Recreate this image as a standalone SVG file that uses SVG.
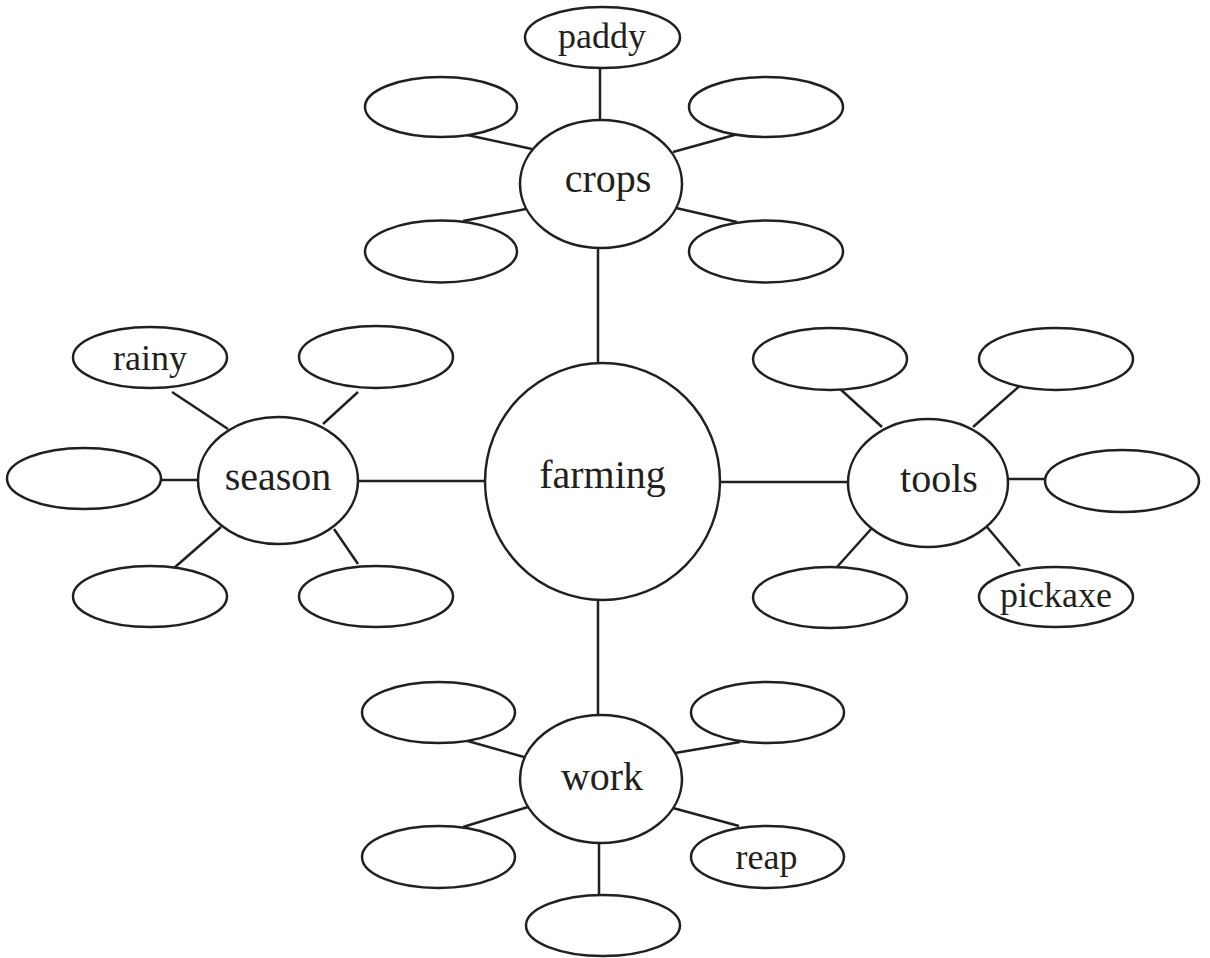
<svg xmlns="http://www.w3.org/2000/svg" width="1210" height="958" viewBox="0 0 1210 958">
<style>
.n{fill:#fff;stroke:#231f20;stroke-width:2.5}
.c line{stroke:#231f20;stroke-width:2.5}
text{font-family:"Liberation Serif","Times New Roman",serif;fill:#231f20;text-anchor:middle}
.big{font-size:40px}
.sm{font-size:36px}
</style>
<rect width="1210" height="958" fill="#fff"/>
<g class="c" id="connectors">
<line x1="600" y1="68" x2="600" y2="120"/>
<line x1="458" y1="133" x2="532" y2="149"/>
<line x1="673" y1="152" x2="738" y2="134"/>
<line x1="463" y1="221" x2="526" y2="209"/>
<line x1="676" y1="208" x2="737" y2="222"/>
<line x1="598" y1="248" x2="598" y2="363"/>
<line x1="172" y1="392" x2="228" y2="429"/>
<line x1="358" y1="392" x2="323" y2="424"/>
<line x1="161" y1="480" x2="198" y2="480"/>
<line x1="221" y1="527" x2="174" y2="568"/>
<line x1="334" y1="529" x2="358" y2="564"/>
<line x1="358" y1="481" x2="485" y2="481"/>
<line x1="720" y1="482" x2="848" y2="482"/>
<line x1="839" y1="388" x2="882" y2="427"/>
<line x1="1023" y1="383" x2="973" y2="427"/>
<line x1="1008" y1="479" x2="1045" y2="479"/>
<line x1="872" y1="528" x2="837" y2="567"/>
<line x1="987" y1="527" x2="1020" y2="566"/>
<line x1="598" y1="600" x2="598" y2="715"/>
<line x1="457" y1="738" x2="524" y2="757"/>
<line x1="675" y1="753" x2="740" y2="742"/>
<line x1="463" y1="827" x2="528" y2="807"/>
<line x1="673" y1="808" x2="739" y2="826"/>
<line x1="599" y1="843" x2="599" y2="894"/>
</g>
<g id="farming"><ellipse class="n" cx="602.5" cy="481.5" rx="117.5" ry="118.5"/><text class="big" x="602.5" y="488">farming</text></g>
<g id="crops"><ellipse class="n" cx="601" cy="184" rx="81" ry="64"/><text class="big" x="608" y="192">crops</text></g>
<g id="paddy"><ellipse class="n" cx="602.5" cy="37.5" rx="77.5" ry="30.5"/><text class="sm" x="602" y="48">paddy</text></g>
<g id="crops-tl"><ellipse class="n" cx="441" cy="107" rx="76" ry="30"/></g>
<g id="crops-tr"><ellipse class="n" cx="766" cy="107" rx="77" ry="30"/></g>
<g id="crops-bl"><ellipse class="n" cx="441" cy="251.5" rx="76" ry="31"/></g>
<g id="crops-br"><ellipse class="n" cx="766" cy="251.5" rx="77" ry="31"/></g>
<g id="season"><ellipse class="n" cx="278" cy="480.5" rx="80" ry="63.5"/><text class="big" x="278" y="490">season</text></g>
<g id="rainy"><ellipse class="n" cx="150" cy="357.5" rx="77" ry="30.5"/><text class="sm" x="150" y="370">rainy</text></g>
<g id="season-tr"><ellipse class="n" cx="376" cy="357" rx="77" ry="31"/></g>
<g id="season-l"><ellipse class="n" cx="84" cy="478.5" rx="77" ry="30.5"/></g>
<g id="season-bl"><ellipse class="n" cx="150" cy="596.5" rx="77" ry="30.5"/></g>
<g id="season-br"><ellipse class="n" cx="376" cy="596.5" rx="77" ry="30.5"/></g>
<g id="tools"><ellipse class="n" cx="928" cy="483" rx="80" ry="64"/><text class="big" x="939" y="492">tools</text></g>
<g id="tools-tl"><ellipse class="n" cx="830" cy="359" rx="77" ry="31"/></g>
<g id="tools-tr"><ellipse class="n" cx="1056" cy="359" rx="77" ry="31"/></g>
<g id="tools-r"><ellipse class="n" cx="1122" cy="481" rx="77" ry="31"/></g>
<g id="tools-bl"><ellipse class="n" cx="830" cy="597.5" rx="77" ry="30.5"/></g>
<g id="pickaxe"><ellipse class="n" cx="1056" cy="597" rx="77" ry="30"/><text class="sm" x="1056" y="607">pickaxe</text></g>
<g id="work"><ellipse class="n" cx="601" cy="779" rx="81" ry="64"/><text class="big" x="602" y="790">work</text></g>
<g id="work-tl"><ellipse class="n" cx="438.5" cy="712.5" rx="76.5" ry="30.5"/></g>
<g id="work-tr"><ellipse class="n" cx="767.5" cy="712.5" rx="76.5" ry="30.5"/></g>
<g id="work-bl"><ellipse class="n" cx="438.5" cy="857" rx="76.5" ry="31"/></g>
<g id="reap"><ellipse class="n" cx="767.5" cy="857" rx="76.5" ry="31"/><text class="sm" x="766.5" y="869">reap</text></g>
<g id="work-b"><ellipse class="n" cx="603" cy="925.5" rx="77" ry="30.5"/></g>
</svg>
